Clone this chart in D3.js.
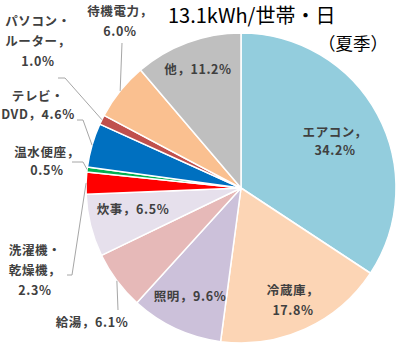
<!DOCTYPE html>
<html>
<head>
<meta charset="utf-8">
<script src="https://cdnjs.cloudflare.com/ajax/libs/d3/7.8.5/d3.min.js"></script>
<style>
  html, body { margin: 0; padding: 0; background: #fff; }
  svg { display: block; }
</style>
</head>
<body>
<svg id="chart" width="405" height="344"></svg>
<script>
// Household electricity use by appliance, summer (share of 13.1 kWh/day)
const categories = ["エアコン", "冷蔵庫", "照明", "給湯", "炊事", "洗濯機・乾燥機", "温水便座", "テレビ・DVD", "パソコン・ルーター", "待機電力", "他"];
const shares     = [34.2, 17.8, 9.6, 6.1, 6.5, 2.3, 0.5, 4.6, 1.0, 6.0, 11.2];
const colors     = ["#93CDDD", "#FCD5B5", "#CCC1DA", "#E6B9B8", "#E6E0EC", "#FF0000", "#00B050", "#0070C0", "#C0504D", "#FAC090", "#BFBFBF"];
const title      = "13.1kWh/世帯・日";
const subtitle   = "（夏季）";

// label lines per slice (text split across rows)
const labelLines = [
  ["エアコン，", "34.2%"],
  ["冷蔵庫，", "17.8%"],
  ["照明，9.6%"],
  ["給湯，6.1%"],
  ["炊事，6.5%"],
  ["洗濯機・", "乾燥機，", "2.3%"],
  ["温水便座，", "0.5%"],
  ["テレビ・", "DVD，4.6%"],
  ["パソコン・", "ルーター，", "1.0%"],
  ["待機電力，", "6.0%"],
  ["他，11.2%"]
];

const svg = d3.select("#chart");
const cx = 241, cy = 188, R = 155;

const pie = d3.pie().value(d => d).sort(null);
const arc = d3.arc().innerRadius(0).outerRadius(R);
const arcs = pie(shares);

const g = svg.append("g").attr("transform", `translate(${cx},${cy})`);

g.selectAll("path.slice")
  .data(arcs)
  .join("path")
  .attr("class", "slice")
  .attr("d", arc)
  .attr("fill", (d, i) => colors[i])
  .attr("stroke", "#fff")
  .attr("stroke-width", 1.5)
  .attr("stroke-linejoin", "round");

// label placement: text anchor (centre of block, first line) + optional leader polyline
const layout = [
  { x: 335, y: 137, lh: 18 },
  { x: 293, y: 295, lh: 20 },
  { x: 190, y: 301, lh: 19 },
  { x: 92,  y: 327, lh: 19, leader: [[118, 310]] },
  { x: 133, y: 214, lh: 19 },
  { x: 35,  y: 255, lh: 20, leader: [[67, 275], [72, 275]] },
  { x: 47,  y: 157, lh: 18, leader: [[72, 162], [83, 162]] },
  { x: 38,  y: 101, lh: 18, leader: [[77, 120], [83, 120]] },
  { x: 38,  y: 26,  lh: 20, leader: [[58, 78], [65, 78]] },
  { x: 120, y: 16,  lh: 20, leader: [[122, 43]] },
  { x: 198, y: 74,  lh: 19 }
];

// leader lines end on the rim at the slice mid-angle
const rim = d => {
  const a = (d.startAngle + d.endAngle) / 2;
  return [cx + R * Math.sin(a), cy - R * Math.cos(a)];
};

const line = d3.line();
svg.append("g").selectAll("path.leader")
  .data(arcs.filter((d, i) => layout[i].leader))
  .join("path")
  .attr("class", "leader")
  .attr("d", d => line([...layout[d.index].leader, rim(d)]))
  .attr("fill", "none")
  .attr("stroke", "#A6A6A6")
  .attr("stroke-width", 1);

const labels = svg.append("g")
  .attr("font-family", "'Noto Sans CJK JP', 'DejaVu Sans', sans-serif")
  .attr("font-size", 12.5)
  .attr("font-weight", "bold")
  .attr("fill", "#404040")
  .attr("text-anchor", "middle");

arcs.forEach((d, i) => {
  const L = layout[i];
  const t = labels.append("text")
    .attr("x", L.x)
    .attr("y", L.y)
    .attr("letter-spacing", 0.6);
  labelLines[i].forEach((s, k) => {
    t.append("tspan").attr("x", L.x).attr("dy", k === 0 ? 0 : L.lh).text(s);
  });
});

svg.append("text")
  .attr("x", 168).attr("y", 23)
  .attr("font-family", "'Noto Sans CJK JP', 'Noto Sans', sans-serif")
  .attr("font-size", 20)
  .attr("fill", "#000")
  .text(title);

svg.append("text")
  .attr("x", 318).attr("y", 50)
  .attr("font-family", "'Noto Sans CJK JP', 'Noto Sans', sans-serif")
  .attr("font-size", 17.5)
  .attr("fill", "#000")
  .text(subtitle);
</script>
</body>
</html>
